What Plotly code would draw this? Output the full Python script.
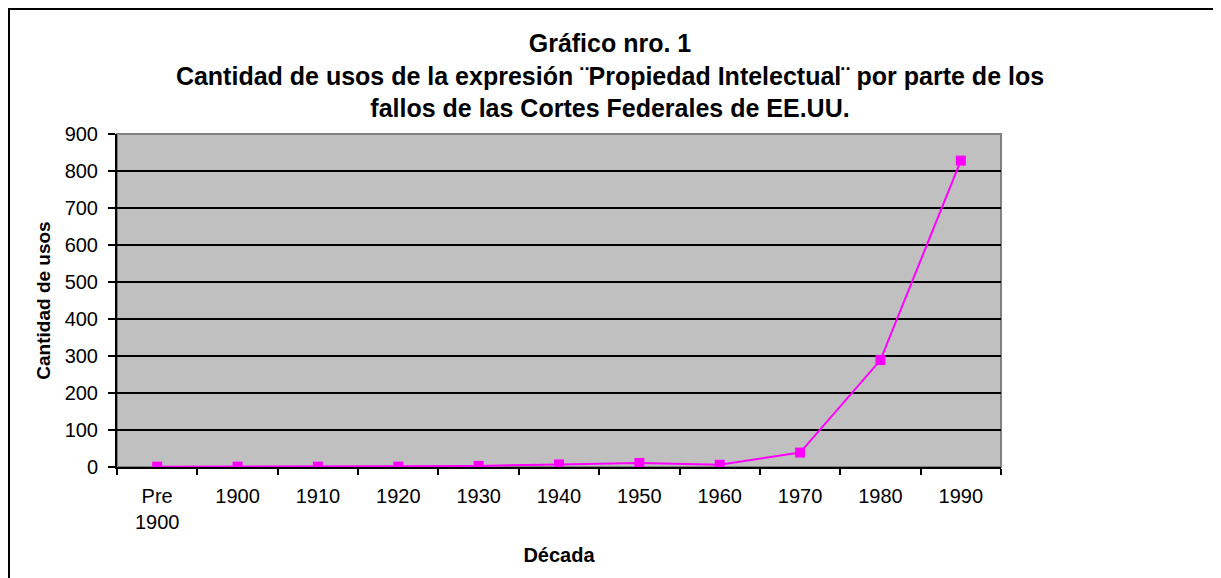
import plotly.graph_objects as go

decades = ["Pre 1900", "1900", "1910", "1920", "1930", "1940", "1950", "1960", "1970", "1980", "1990"]
tick_labels = ["Pre<br>1900", "1900", "1910", "1920", "1930", "1940", "1950", "1960", "1970", "1980", "1990"]
usos = [1, 1, 1, 1, 3, 7, 11, 6, 39, 289, 828]
y_ticks = [0, 100, 200, 300, 400, 500, 600, 700, 800, 900]

title_text = ("Gráfico nro. 1<br>Cantidad de usos de la expresión ¨Propiedad Intelectual¨ por parte de los"
              "<br>fallos de las Cortes Federales de EE.UU.")

FONT = "Liberation Sans, Arial, sans-serif"

fig = go.Figure()
fig.add_trace(go.Scatter(
    x=decades, y=usos, mode="lines+markers",
    line=dict(color="#FF00FF", width=2),
    marker=dict(symbol="square", size=10, color="#FF00FF"),
    showlegend=False,
))

# page has an 8px body offset; figure is sized to fill the rest of the window
W, H = 1213, 570
L, R, T, B = 109, 993, 126, 459   # plot area in figure pixels
PW, PH = R - L, B - T

fig.update_layout(
    width=W, height=H,
    margin=dict(l=L, r=W - R, t=T, b=H - B),
    paper_bgcolor="white",
    plot_bgcolor="#C0C0C0",
    font=dict(family=FONT, color="black", size=20),
    title=dict(text=title_text, x=(602 - L) / PW, xref="paper", xanchor="center",
               y=1 - 44 / H, yref="container", yanchor="top",
               font=dict(family=FONT, size=25, color="black", weight="bold")),
    xaxis=dict(
        type="category", tickvals=decades, ticktext=tick_labels,
        tickson="boundaries", ticks="outside", ticklen=6, tickwidth=2, tickcolor="black",
        showline=True, linecolor="black", linewidth=2, showgrid=False,
        tickfont=dict(size=20), range=[-0.5, 10.5], ticklabelstandoff=10,
        title=dict(text="Década", font=dict(size=20, weight="bold"), standoff=16),
    ),
    yaxis=dict(
        range=[0, 900], tickvals=y_ticks, ticks="outside", ticklen=7, tickwidth=2, tickcolor="black",
        showline=True, linecolor="black", linewidth=2,
        showgrid=True, gridcolor="black", gridwidth=1.5, zeroline=False,
        tickfont=dict(size=20), ticklabelstandoff=6,
        title=dict(text="Cantidad de usos", font=dict(size=19, weight="bold"), standoff=9),
    ),
    shapes=[
        dict(type="rect", xref="paper", yref="paper", x0=0, x1=1, y0=0, y1=1,
             line=dict(color="#808080", width=2), layer="below"),
        dict(type="rect", xref="paper", yref="paper",
             x0=(1 - L) / PW, x1=(1209 - L) / PW,
             y0=(B - 580) / PH, y1=(B - 1) / PH,
             line=dict(color="black", width=2), layer="above"),
    ],
)

fig.write_html("out.html")
